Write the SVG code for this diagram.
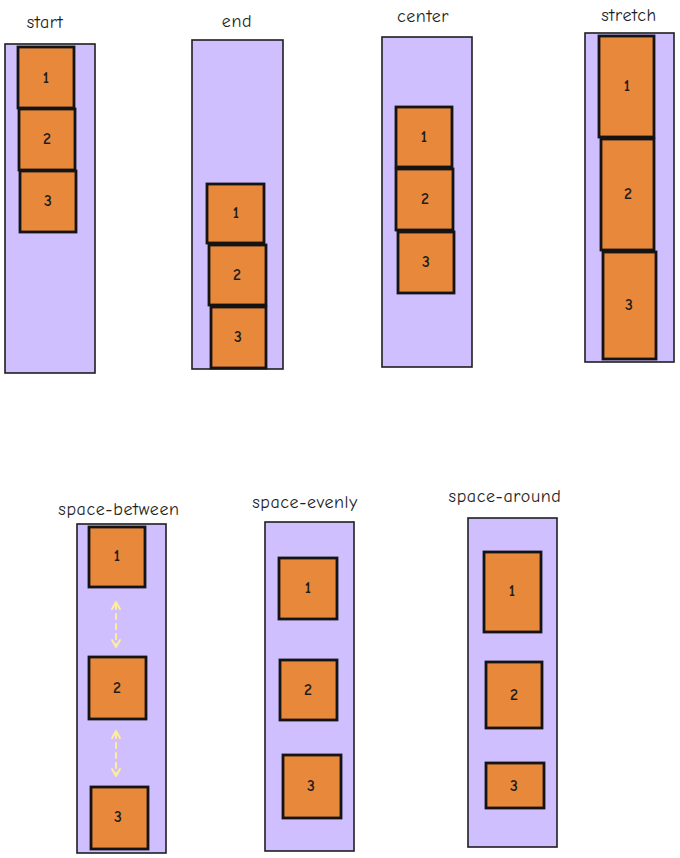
<svg xmlns="http://www.w3.org/2000/svg" width="680" height="858" viewBox="0 0 680 858">
<defs>
<style>
.bg{fill:#ffffff}
.ct{fill:#d0bfff;stroke:#1e1e1e;stroke-width:1.6}
.it{fill:#e8883a;stroke:#141414;stroke-width:2.8}
.lb{font-family:"Comic Neue","Noto Sans","DejaVu Sans",sans-serif;font-size:18px;letter-spacing:0.6px;fill:#1e1e1e;text-anchor:middle}
.nm{font-family:"Comic Neue","Noto Sans","DejaVu Sans",sans-serif;font-size:16px;font-weight:bold;fill:#1e1e1e;text-anchor:middle;dominant-baseline:central}
.ar{fill:none;stroke:#ffec99;stroke-width:2;stroke-dasharray:5 5;stroke-linecap:round}
.ah{fill:none;stroke:#ffec99;stroke-width:2;stroke-linecap:round;stroke-linejoin:round}
</style>
</defs>
<rect class="bg" x="0" y="0" width="680" height="858"/>

<g id="start">
<text class="lb" x="45" y="28">start</text>
<rect class="ct" x="5" y="44" width="90" height="329"/>
<rect class="it" x="18" y="47" width="56" height="61"/><text class="nm" x="46" y="78">1</text>
<rect class="it" x="19" y="109" width="56" height="61"/><text class="nm" x="47" y="139">2</text>
<rect class="it" x="20" y="171" width="56" height="61"/><text class="nm" x="48" y="201">3</text>
</g>

<g id="end">
<text class="lb" x="237" y="27">end</text>
<rect class="ct" x="192" y="40" width="91" height="329"/>
<rect class="it" x="207" y="184" width="57" height="59"/><text class="nm" x="236" y="213">1</text>
<rect class="it" x="209" y="245" width="57" height="60"/><text class="nm" x="237" y="275">2</text>
<rect class="it" x="211" y="307" width="55" height="61"/><text class="nm" x="238" y="337">3</text>
</g>

<g id="center">
<text class="lb" x="423" y="22">center</text>
<rect class="ct" x="382" y="37" width="90" height="330"/>
<rect class="it" x="396" y="107" width="56" height="60"/><text class="nm" x="424" y="137">1</text>
<rect class="it" x="396" y="169" width="57" height="61"/><text class="nm" x="425" y="199">2</text>
<rect class="it" x="398" y="232" width="56" height="61"/><text class="nm" x="426" y="262">3</text>
</g>

<g id="stretch">
<text class="lb" x="629" y="21">stretch</text>
<rect class="ct" x="585" y="33" width="89" height="329"/>
<rect class="it" x="599" y="36" width="55" height="101"/><text class="nm" x="627" y="86">1</text>
<rect class="it" x="601" y="139" width="53" height="111"/><text class="nm" x="628" y="194">2</text>
<rect class="it" x="603" y="252" width="53" height="107"/><text class="nm" x="629" y="305">3</text>
</g>

<g id="space-between">
<text class="lb" x="119" y="515">space-between</text>
<rect class="ct" x="77" y="524" width="89" height="329"/>
<rect class="it" x="89" y="527" width="56" height="60"/><text class="nm" x="117" y="556">1</text>
<rect class="it" x="89" y="657" width="57" height="62"/><text class="nm" x="117" y="688">2</text>
<rect class="it" x="91" y="787" width="57" height="62"/><text class="nm" x="118" y="817">3</text>
</g>

<g id="space-evenly">
<text class="lb" x="305" y="508">space-evenly</text>
<rect class="ct" x="265" y="522" width="89" height="329"/>
<rect class="it" x="279" y="558" width="58" height="61"/><text class="nm" x="308" y="588">1</text>
<rect class="it" x="280" y="660" width="57" height="60"/><text class="nm" x="308" y="690">2</text>
<rect class="it" x="283" y="755" width="58" height="63"/><text class="nm" x="311" y="786">3</text>
</g>

<g id="space-around">
<text class="lb" x="505" y="502">space-around</text>
<rect class="ct" x="468" y="518" width="89" height="329"/>
<rect class="it" x="484" y="552" width="57" height="80"/><text class="nm" x="512" y="591">1</text>
<rect class="it" x="486" y="662" width="56" height="66"/><text class="nm" x="514" y="695">2</text>
<rect class="it" x="486" y="763" width="58" height="45"/><text class="nm" x="514" y="786">3</text>
</g>

<g id="connectors">
<line class="ar" x1="116" y1="604" x2="116" y2="645"/>
<polyline class="ah" points="112,609 116,602 120,609"/>
<polyline class="ah" points="112,640 116,647 120,640"/>
<line class="ar" x1="116" y1="733" x2="116" y2="774"/>
<polyline class="ah" points="112,738 116,731 120,738"/>
<polyline class="ah" points="112,769 116,776 120,769"/>
</g>
</svg>
